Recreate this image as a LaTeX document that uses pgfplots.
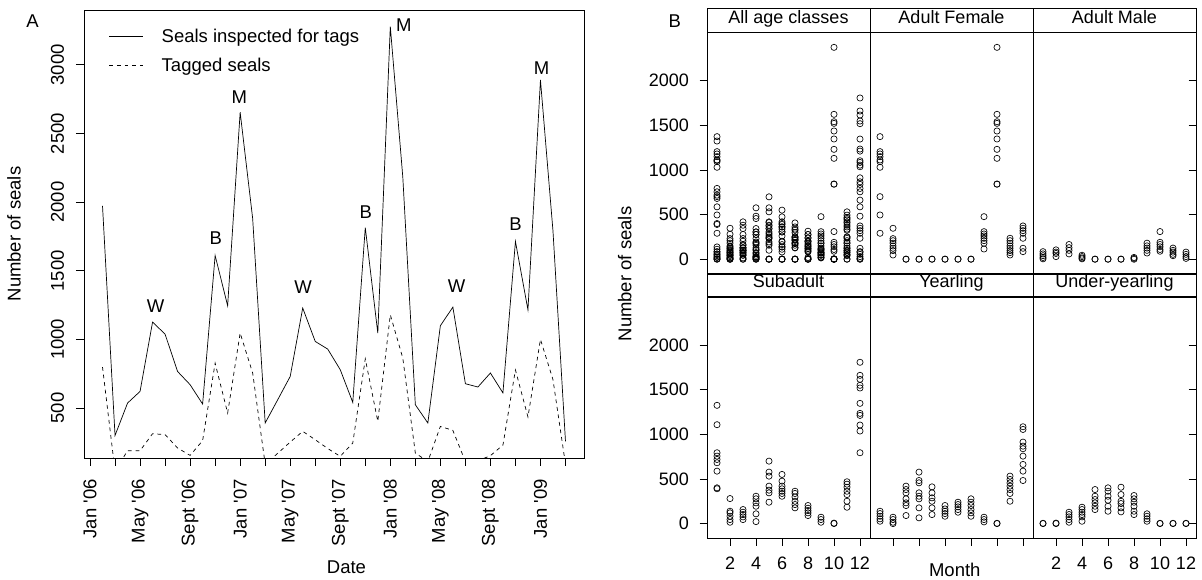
\documentclass[border=0pt]{standalone}
\usepackage{pgfplots}
\pgfplotsset{compat=1.18}
\usepackage{pgfplotstable}
\usepackage{fontspec}
\setmainfont{Liberation Sans}
\newcommand{\fA}{\fontsize{18.5}{22}\selectfont}
\newcommand{\fB}{\fontsize{18}{21}\selectfont}

% Panel A: monthly counts, month 0 = Jan 2006
\pgfplotstableread{
m seen tag
1 1972 798
2 300 40
3 536 189
4 621 189
5 1126 313
6 1038 306
7 766 209
8 670 155
9 529 262
10 1611 827
11 1245 463
12 2654 1046
13 1880 755
14 391 90
15 560 170
16 730 252
17 1228 330
18 985 269
19 929 205
20 779 148
21 541 245
22 1814 858
23 1046 403
24 3278 1179
25 2180 863
26 524 172
27 391 110
28 1099 366
29 1235 337
30 677 110
31 653 115
32 755 153
33 610 230
34 1713 777
35 1215 435
36 2889 1000
37 1790 707
38 257 90
}\tabA

% Panel B: per-class values by month
\pgfplotstableread[row sep=\\]{m v\\
1 1373\\1 1205\\1 1179\\1 1149\\1 1112\\1 1093\\1 1030\\1 701\\1 496\\1 291\\
2 347\\2 231\\2 208\\2 180\\2 149\\2 123\\2 97\\2 48\\
3 0\\3 2\\4 0\\4 2\\5 0\\5 2\\6 0\\6 2\\7 0\\7 2\\8 0\\8 2\\
9 477\\9 309\\9 283\\9 261\\9 235\\9 208\\9 179\\9 115\\
10 2373\\10 1623\\10 1540\\10 1522\\10 1436\\10 1347\\10 1231\\10 1130\\10 843\\10 840\\
11 235\\11 208\\11 179\\11 149\\11 123\\11 97\\11 74\\11 48\\
12 373\\12 347\\12 320\\12 291\\12 235\\12 123\\12 85\\
}\AF

\pgfplotstableread[row sep=\\]{m v\\
1 85\\1 60\\1 40\\1 20\\1 5\\
2 105\\2 80\\2 65\\2 30\\
3 165\\3 130\\3 100\\3 60\\
4 45\\4 30\\4 15\\4 5\\
5 0\\5 2\\6 0\\6 2\\7 0\\7 2\\
8 20\\8 10\\8 0\\
9 180\\9 150\\9 125\\9 100\\9 70\\
10 310\\10 190\\10 165\\10 140\\10 110\\10 90\\
11 125\\11 100\\11 80\\11 55\\11 40\\
12 80\\12 55\\12 30\\12 10\\
}\AM

\pgfplotstableread[row sep=\\]{m v\\
1 1324\\1 1107\\1 793\\1 755\\1 718\\1 681\\1 587\\1 400\\1 390\\
2 280\\2 138\\2 120\\2 82\\2 45\\2 15\\
3 157\\3 127\\3 101\\3 75\\3 45\\
4 306\\4 277\\4 232\\4 194\\4 109\\4 22\\
5 699\\5 576\\5 531\\5 419\\5 374\\5 344\\5 239\\
6 550\\6 475\\6 419\\6 389\\6 362\\6 337\\6 306\\
7 362\\7 337\\7 299\\7 250\\7 213\\7 176\\
8 202\\8 172\\8 146\\8 120\\8 90\\
9 71\\9 45\\9 15\\
10 0\\10 5\\
11 468\\11 441\\11 407\\11 362\\11 325\\11 250\\11 183\\
12 1806\\12 1660\\12 1615\\12 1548\\12 1518\\12 1346\\12 1234\\12 1211\\12 1103\\12 1036\\12 793\\
}\SA

\pgfplotstableread[row sep=\\]{m v\\
1 138\\1 112\\1 82\\1 53\\1 26\\
2 71\\2 45\\2 15\\2 0\\
3 419\\3 381\\3 344\\3 277\\3 232\\3 202\\3 90\\
4 576\\4 482\\4 456\\4 344\\4 306\\4 277\\4 176\\4 64\\
5 411\\5 344\\5 288\\5 250\\5 176\\5 101\\
6 202\\6 164\\6 138\\6 112\\6 82\\
7 239\\7 213\\7 187\\7 157\\7 127\\
8 277\\8 239\\8 202\\8 157\\8 120\\8 82\\
9 71\\9 45\\9 19\\
10 0\\10 3\\
11 531\\11 494\\11 456\\11 419\\11 381\\11 337\\11 250\\
12 1084\\12 1054\\12 912\\12 867\\12 838\\12 755\\12 662\\12 587\\12 482\\
}\YR

\pgfplotstableread[row sep=\\]{m v\\
1 0\\1 3\\2 0\\2 5\\
3 127\\3 101\\3 75\\3 45\\3 15\\
4 183\\4 157\\4 127\\4 101\\4 75\\4 26\\
5 381\\5 306\\5 269\\5 232\\5 194\\5 157\\
6 400\\6 362\\6 306\\6 261\\6 194\\6 138\\
7 407\\7 325\\7 250\\7 224\\7 176\\7 131\\
8 314\\8 277\\8 239\\8 194\\8 138\\8 101\\
9 109\\9 82\\9 53\\9 26\\
10 0\\10 3\\11 0\\11 3\\12 0\\12 3\\
}\UY

\pgfplotsset{
 lat/.style={
  scale only axis, width=163pt, height=241.3pt,
  xmin=0.23, xmax=12.77, ymin=-165, ymax=2537,
  axis line style={line width=0.9pt},
  tick style={line width=0.8pt, black},
  tick align=outside, major tick length=7.5pt,
  xtick={2,4,...,12}, ytick={0,500,1000,1500,2000},
  ticklabel style={font=\fB},
  /pgf/number format/assume math mode=true,
  /pgf/number format/1000 sep={},
  scaled ticks=false,
  every axis title shift=0pt,
  title style={at={(0.5,1)}, anchor=south, yshift=0pt, draw=black, line width=0.9pt,
    minimum width=163pt, minimum height=23.3pt, inner sep=0pt,
    text height=0.72em, text depth=0.17em, font=\fB},
  yticklabel style={anchor=east, inner sep=0pt},
  yticklabel shift=10.5pt,
  xticklabel style={anchor=north, inner sep=0pt},
  xticklabel shift=10.9pt,
  xtick pos=left,
 },
 % narrow strip just inside the right border of column 3: its y grid lines are the short right-hand ticks
 rtick/.style={
  scale only axis, width=7.5pt, height=241.3pt,
  xmin=0, xmax=1, ymin=-165, ymax=2537,
  axis line style={draw=none},
  major tick length=0pt,
  xtick=\empty, ytick={0,500,1000,1500,2000},
  yticklabels={{},{},{},{},{}},
  ymajorgrids, grid style={draw=black, line width=0.8pt},
 },
 pts/.style={only marks, mark=o, mark size=3.1pt, mark options={line width=0.65pt}, draw=black},
}

\begin{document}
\begin{tikzpicture}[x=1pt,y=1pt]
\useasboundingbox (0,0) rectangle (1202,580);

% ---------------- Panel A ----------------
\begin{axis}[
  at={(84pt,122pt)}, anchor=south west, scale only axis,
  width=500pt, height=448pt,
  xmin=-0.48, xmax=39.48, ymin=136, ymax=3399,
  axis line style={line width=0.9pt},
  tick style={line width=0.8pt, black},
  tick align=outside, major tick length=8pt,
  xtick={0,2,...,38},
  xticklabels={Jan \textquotesingle06,,May \textquotesingle06,,Sept \textquotesingle06,,Jan \textquotesingle07,,May \textquotesingle07,,Sept \textquotesingle07,,Jan \textquotesingle08,,May \textquotesingle08,,Sept \textquotesingle08,,Jan \textquotesingle09,},
  xticklabel style={rotate=90, anchor=east, inner sep=0pt, font=\fA},
  xticklabel shift=13pt,
  ytick={500,1000,1500,2000,2500,3000},
  yticklabel style={rotate=90, anchor=south, inner sep=0pt, font=\fA},
  yticklabel shift=11.7pt,
  xtick pos=left, ytick pos=left,
  /pgf/number format/assume math mode=true,
  /pgf/number format/1000 sep={},
  scaled ticks=false,
  xlabel={Date}, ylabel={Number of seals},
  xlabel style={at={(axis description cs:0.525,-0.243)}, anchor=center, font=\fA},
  ylabel style={at={(axis description cs:-0.14,0.5)}, anchor=center, font=\fA},
  legend style={at={(axis description cs:0.05,0.957)}, anchor=north west, draw=none, fill=none,
    inner sep=0pt, outer sep=0pt, row sep=14pt, column sep=18pt, font=\fA,
    nodes={inner sep=0pt}},
  legend cell align=left,
  legend image code/.code={\draw[#1] (0pt,0pt) -- (34pt,0pt);},
]
\addplot[black, line width=0.7pt] table[x=m,y=seen]{\tabA};
\addlegendentry{Seals inspected for tags}
\addplot[black, line width=0.7pt, dash pattern=on 3.8pt off 3.8pt] table[x=m,y=tag]{\tabA};
\addlegendentry{Tagged seals}
\node[font=\fA] at (axis cs:5.25,1239) {W};
\node[font=\fA] at (axis cs:10.06,1737) {B};
\node[font=\fA] at (axis cs:11.93,2763) {M};
\node[font=\fA] at (axis cs:17.04,1381) {W};
\node[font=\fA] at (axis cs:22.04,1924) {B};
\node[font=\fA] at (axis cs:25.08,3290) {M};
\node[font=\fA] at (axis cs:29.29,1390) {W};
\node[font=\fA] at (axis cs:34.0,1841) {B};
\node[font=\fA] at (axis cs:36.08,2979) {M};
\end{axis}

% ---------------- Panel B ----------------
\begin{axis}[lat, at={(707pt,306pt)}, anchor=south west, title={All age classes},
  xtick=\empty, ytick pos=left,
  ylabel={Number of seals},
  ylabel style={at={(axis description cs:-0.505,0)}, anchor=center, font=\fA}]
\addplot[pts] table[x=m,y=v]{\AF};
\addplot[pts] table[x=m,y=v]{\AM};
\addplot[pts] table[x=m,y=v]{\SA};
\addplot[pts] table[x=m,y=v]{\YR};
\addplot[pts] table[x=m,y=v]{\UY};
\end{axis}

\begin{axis}[lat, at={(870pt,306pt)}, anchor=south west, title={Adult Female},
  xtick=\empty, ytick=\empty]
\addplot[pts] table[x=m,y=v]{\AF};
\end{axis}

\begin{axis}[lat, at={(1033pt,306pt)}, anchor=south west, title={Adult Male},
  xtick=\empty, ytick=\empty]
\addplot[pts] table[x=m,y=v]{\AM};
\end{axis}
\begin{axis}[rtick, at={(1188.5pt,306pt)}, anchor=south west]
\end{axis}

\begin{axis}[lat, at={(707pt,41.7pt)}, anchor=south west, title={Subadult},
  ytick pos=left]
\addplot[pts] table[x=m,y=v]{\SA};
\end{axis}

\begin{axis}[lat, at={(870pt,41.7pt)}, anchor=south west, title={Yearling},
  ytick=\empty, xticklabels={{},{},{},{},{},{}},
  xlabel={Month},
  xlabel style={at={(axis description cs:0.52,-0.131)}, anchor=center, font=\fA}]
\addplot[pts] table[x=m,y=v]{\YR};
\end{axis}

\begin{axis}[lat, at={(1033pt,41.7pt)}, anchor=south west, title={Under-yearling},
  ytick=\empty]
\addplot[pts] table[x=m,y=v]{\UY};
\end{axis}
\begin{axis}[rtick, at={(1188.5pt,41.7pt)}, anchor=south west]
\end{axis}

\node[font=\fA] at (32.5,559) {A};
\node[font=\fA] at (674.7,559) {B};
\end{tikzpicture}
\end{document}
